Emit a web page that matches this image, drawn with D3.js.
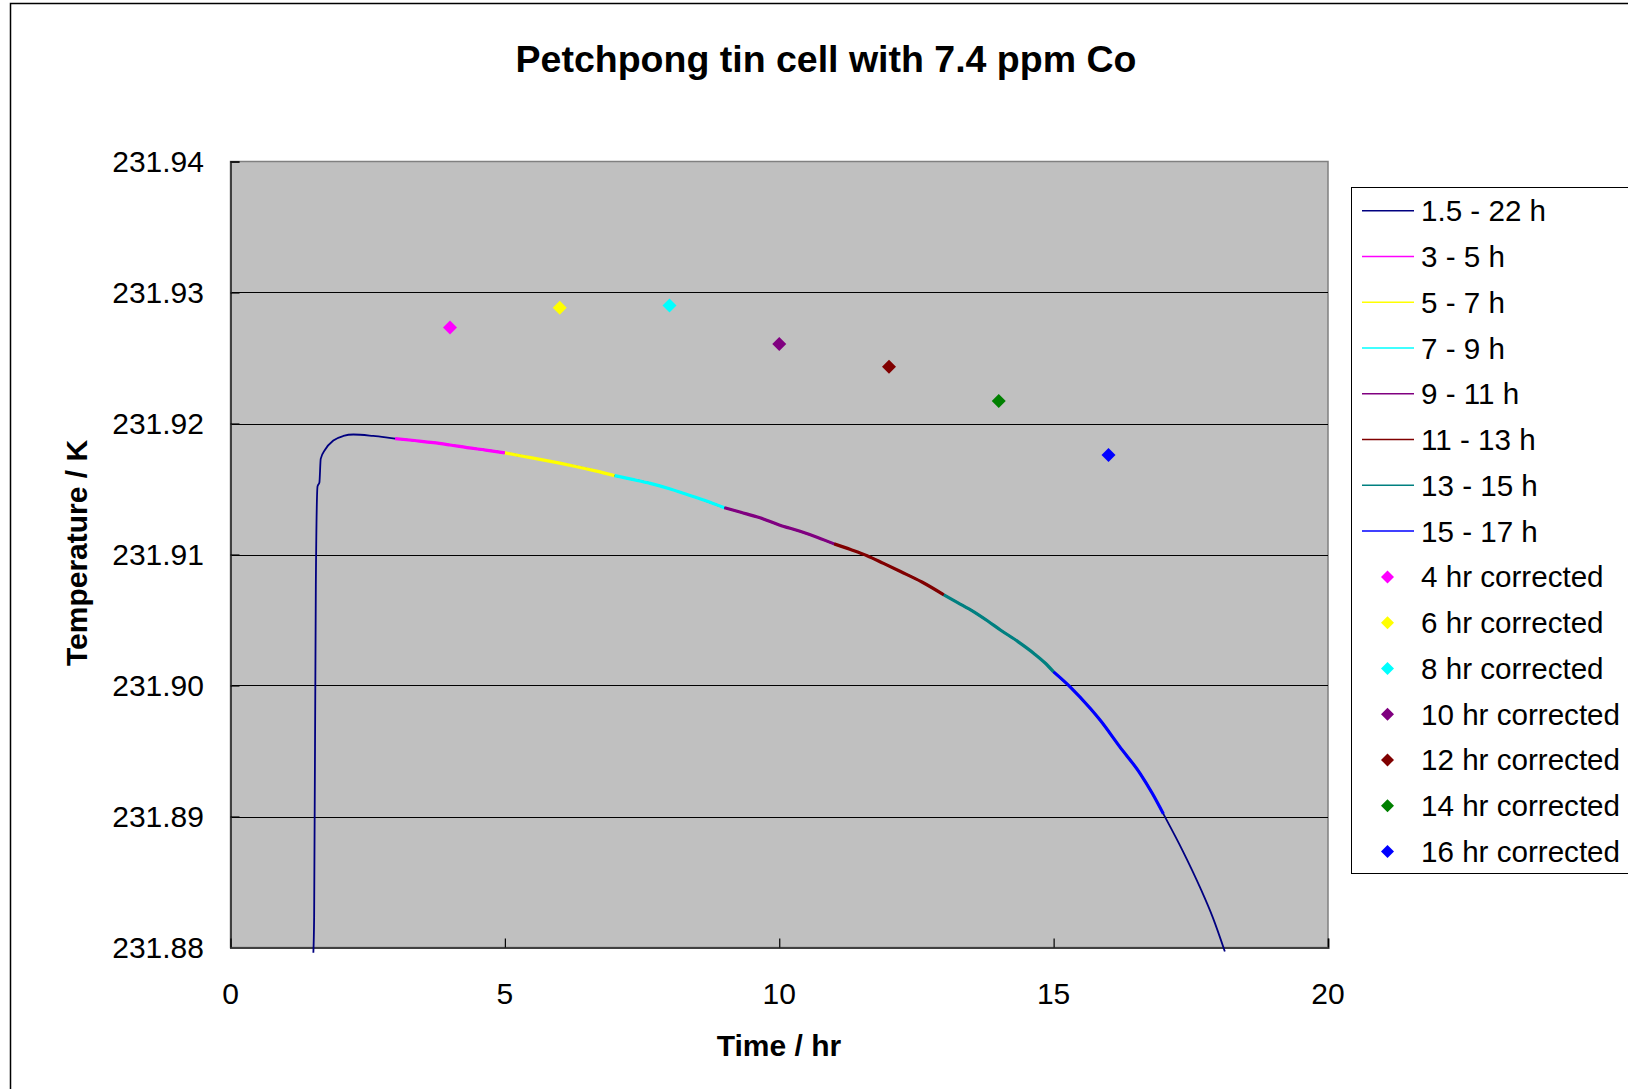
<!DOCTYPE html>
<html lang="en">
<head>
  <meta charset="UTF-8">
  <title>Petchpong tin cell with 7.4 ppm Co</title>
  <script src="https://d3js.org/d3.v7.min.js"></script>
  <style>
    body {
      margin: 0;
      overflow: hidden;
      background: #fff;
      font-family: 'Liberation Sans', Arial, sans-serif;
    }
    svg { display: block; }
    .tick-label { font-size: 30px; fill: #000; }
    .axis-title { font-size: 30px; font-weight: bold; fill: #000; }
    .legend-text { font-size: 29.6px; fill: #000; }
  </style>
</head>
<body>
  <svg id="chart" width="1628" height="1089"></svg>

  <script>
    const timeHr = [1.51, 1.524, 1.555, 1.586, 1.62, 1.644, 1.723, 1.874, 2.057, 2.24, 2.6,
      3.0, 3.35, 3.7, 4.0, 4.31, 4.65, 5.0, 5.3, 5.64, 6.0, 6.31, 6.65, 7.0, 7.3, 7.65,
      8.0, 8.32, 8.65, 9.0, 9.3, 9.65, 10.0, 10.38, 10.7, 11.0, 11.3, 11.6, 11.9, 12.21,
      12.6, 13.0, 13.25, 13.54, 13.8, 14.03, 14.35, 14.64, 14.85, 15.0, 15.3, 15.67,
      15.85, 16.2, 16.58, 16.8, 17.0, 17.35, 17.67, 17.9, 18.12];
    const tempK = [231.8796, 231.8823, 231.9077, 231.9152, 231.9155, 231.9173, 231.9180,
      231.9187, 231.91905, 231.91916, 231.91905,
      231.91885, 231.91870, 231.91854, 231.91836, 231.91816, 231.91797, 231.91776,
      231.91752, 231.91726, 231.91697, 231.91670, 231.91638, 231.91602, 231.91575,
      231.91543, 231.91502, 231.91458, 231.91412, 231.91357, 231.91322, 231.91280,
      231.91226, 231.91177, 231.91130, 231.91081, 231.91038, 231.90991, 231.90932,
      231.90870, 231.90790, 231.90692, 231.90633, 231.90564, 231.90492, 231.90424,
      231.90335, 231.90245, 231.90170, 231.90104, 231.89990, 231.89824, 231.89734,
      231.89535, 231.89326, 231.89175, 231.89020, 231.88740, 231.88457, 231.88230,
      231.87970];

    // line series: name, colour, time window
    const lineNames = ["1.5 - 22 h", "3 - 5 h", "5 - 7 h", "7 - 9 h", "9 - 11 h", "11 - 13 h", "13 - 15 h", "15 - 17 h"];
    const lineColors = ["#000080", "#ff00ff", "#ffff00", "#00ffff", "#800080", "#800000", "#008080", "#0000ff"];
    const lineStart = [1.5, 3, 5, 7, 9, 11, 13, 15];
    const lineEnd = [22, 5, 7, 9, 11, 13, 15, 17];

    // corrected points
    const corrNames = ["4 hr corrected", "6 hr corrected", "8 hr corrected", "10 hr corrected", "12 hr corrected", "14 hr corrected", "16 hr corrected"];
    const corrColors = ["#ff00ff", "#ffff00", "#00ffff", "#800080", "#800000", "#008000", "#0000ff"];
    const corrTime = [4, 6, 8, 10, 12, 14, 16];
    const corrTemp = [231.92733, 231.92884, 231.92900, 231.92607, 231.92433, 231.92171, 231.91760];

    const xTicks = [0, 5, 10, 15, 20];
    const yTicks = [231.88, 231.89, 231.90, 231.91, 231.92, 231.93, 231.94];

    const svg = d3.select("#chart");
    const plot = { left: 230.5, top: 161.5, right: 1328, bottom: 947.5 };

    // outer chart frame (runs off the right/bottom of the window)
    svg.append("rect")
      .attr("x", 10.5).attr("y", 3.5)
      .attr("width", 1700).attr("height", 1200)
      .attr("fill", "#fff").attr("stroke", "#000").attr("stroke-width", 1.5);

    svg.append("text")
      .attr("x", 826).attr("y", 72)
      .attr("text-anchor", "middle")
      .style("font-size", "37.5px").style("font-weight", "bold")
      .text("Petchpong tin cell with 7.4 ppm Co");

    const x = d3.scaleLinear().domain([0, 20]).range([plot.left, plot.right]);
    const y = d3.scaleLinear().domain([231.88, 231.94]).range([plot.bottom, plot.top]);

    svg.append("rect")
      .attr("x", plot.left).attr("y", plot.top)
      .attr("width", plot.right - plot.left).attr("height", plot.bottom - plot.top)
      .attr("fill", "#c0c0c0").attr("stroke", "#808080").attr("stroke-width", 1.5);

    // gridlines
    svg.append("g")
      .selectAll("line")
      .data(yTicks.slice(1, -1))
      .enter().append("line")
      .attr("x1", plot.left).attr("x2", plot.right)
      .attr("y1", d => Math.round(y(d)) + 0.5).attr("y2", d => Math.round(y(d)) + 0.5)
      .attr("stroke", "#000").attr("stroke-width", 1);

    // axes with inward ticks
    const yAxis = svg.append("g")
      .attr("transform", `translate(${plot.left},0)`)
      .call(d3.axisRight(y).tickValues(yTicks).tickSize(9).tickFormat(""));
    const xAxis = svg.append("g")
      .attr("transform", `translate(0,${plot.bottom})`)
      .call(d3.axisTop(x).tickValues(xTicks).tickSize(9).tickFormat(""));
    [yAxis, xAxis].forEach(a => {
      a.select(".domain").attr("stroke", "#404040").attr("stroke-width", 2);
      a.selectAll(".tick line").attr("stroke", "#000").attr("stroke-width", 1.2);
    });

    svg.append("g")
      .selectAll("text")
      .data(yTicks)
      .enter().append("text")
      .attr("class", "tick-label")
      .attr("x", 204).attr("y", d => y(d) + 10.5)
      .attr("text-anchor", "end")
      .text(d => d3.format(".2f")(d));

    svg.append("g")
      .selectAll("text")
      .data(xTicks)
      .enter().append("text")
      .attr("class", "tick-label")
      .attr("x", d => x(d)).attr("y", 1004)
      .attr("text-anchor", "middle")
      .text(d => d);

    svg.append("text")
      .attr("class", "axis-title")
      .attr("x", 779).attr("y", 1056)
      .attr("text-anchor", "middle")
      .text("Time / hr");

    svg.append("text")
      .attr("class", "axis-title")
      .attr("transform", "translate(87,553) rotate(-90)")
      .attr("text-anchor", "middle")
      .text("Temperature / K");

    // data
    const curve = timeHr.map((t, i) => ({ t: t, v: tempK[i] }));
    const line = d3.line().x(d => x(d.t)).y(d => y(d.v)).curve(d3.curveMonotoneX);

    const series = svg.append("g");
    lineNames.forEach((name, i) => {
      const pts = curve.filter(d => d.t >= lineStart[i] && d.t <= lineEnd[i]);
      series.append("path")
        .datum(pts)
        .attr("d", line)
        .attr("fill", "none")
        .attr("stroke", lineColors[i])
        .attr("stroke-width", i === 0 ? 1.8 : 3.2)
        .attr("stroke-linejoin", "round");
    });

    const diamond = (cx, cy, r) => `M${cx},${cy - r}L${cx + r},${cy}L${cx},${cy + r}L${cx - r},${cy}Z`;

    svg.append("g")
      .selectAll("path")
      .data(corrTime)
      .enter().append("path")
      .attr("d", (t, i) => diamond(x(t), y(corrTemp[i]), 7))
      .attr("fill", (t, i) => corrColors[i]);

    // legend
    const legend = svg.append("g");
    legend.append("rect")
      .attr("x", 1351.5).attr("y", 187.5)
      .attr("width", 400).attr("height", 686)
      .attr("fill", "#fff").attr("stroke", "#000").attr("stroke-width", 1);

    const rowY = i => 210.8 + i * 45.76;
    lineNames.forEach((name, i) => {
      legend.append("line")
        .attr("x1", 1362).attr("x2", 1414)
        .attr("y1", rowY(i)).attr("y2", rowY(i))
        .attr("stroke", lineColors[i]).attr("stroke-width", 1.5);
      legend.append("text")
        .attr("class", "legend-text")
        .attr("x", 1421).attr("y", rowY(i) + 10.5)
        .text(name);
    });
    corrNames.forEach((name, j) => {
      const i = j + lineNames.length;
      legend.append("path")
        .attr("d", diamond(1387.5, rowY(i), 6.5))
        .attr("fill", corrColors[j]);
      legend.append("text")
        .attr("class", "legend-text")
        .attr("x", 1421).attr("y", rowY(i) + 10.5)
        .text(name);
    });
  </script>
</body>
</html>
